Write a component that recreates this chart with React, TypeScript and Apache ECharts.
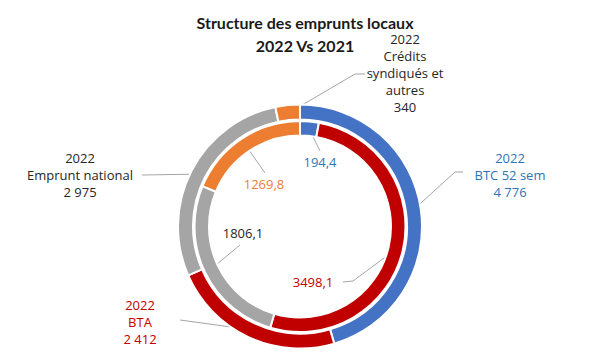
import React, { useEffect, useRef } from "react";
import * as echarts from "echarts";

const categories = ["BTC 52 sem", "BTA", "Emprunt national", "Crédits syndiqués et autres"];
const labelNames2022 = ["BTC 52 sem", "BTA", "Emprunt national", "Crédits\nsyndiqués et\nautres"];
const values2022 = [4776, 2412, 2975, 340];
const values2021 = [194.4, 3498.1, 1806.1, 1269.8];
const sliceColors = ["#4472C4", "#C00000", "#A5A5A5", "#ED7D31"];
const labelColors2022 = ["#2E75B6", "#C00000", "#262626", "#262626"];
const labelColors2021 = ["#2E75B6", "#C00000", "#262626", "#ED7D31"];

const CENTER: [number, number] = [300, 226.5];
const FONT = "'Open Sans', 'DejaVu Sans', sans-serif";

// label layout: text block centres, and guide-line points running from the label toward its slice
const outerLayout = [
  { x: 510, y: 175, elbow: [[463, 172], [455, 172]] },
  { x: 140, y: 322, elbow: [[180, 320]] },
  { x: 80, y: 175, elbow: [[142, 175]] },
  { x: 405, y: 73, elbow: [[365, 74], [355, 74]] },
];
const innerLayout = [
  { x: 320, y: 162, elbow: [[320, 151]] },
  { x: 313, y: 282, elbow: [[343, 282], [353, 281]] },
  { x: 243, y: 233, elbow: [[240, 245]] },
  { x: 264, y: 184, elbow: [[265, 173]] },
];

const fmt2022 = (v: number) => String(v).replace(/\B(?=(\d{3})+(?!\d))/g, " ");
const fmt2021 = (v: number) => v.toFixed(1).replace(".", ",");

function pullIn(p: number[], d: number) {
  const dx = p[0] - CENTER[0];
  const dy = p[1] - CENTER[1];
  const r = Math.sqrt(dx * dx + dy * dy);
  const k = (r - d) / r;
  return [CENTER[0] + dx * k, CENTER[1] + dy * k];
}

export default function App() {
  const ref = useRef<HTMLDivElement>(null);
  useEffect(() => {
    document.body.style.margin = "0";
    const chart = echarts.init(ref.current!, null, { renderer: "svg" });
    const makeLayout = (layout: any[], inset: number) => (params: any) => {
      const L = layout[params.dataIndex];
      const start = params.labelLinePoints ? pullIn(params.labelLinePoints[0], inset) : null;
      return {
        x: L.x,
        y: L.y,
        align: "center",
        verticalAlign: "middle",
        labelLinePoints: start ? [...L.elbow, start] : undefined,
      };
    };
    chart.setOption({
      animation: false,
      backgroundColor: "#ffffff",
      title: {
        text: "Structure des emprunts locaux\n2022 Vs 2021",
        left: 300,
        top: 6,
        textAlign: "center",
        textStyle: {
          fontFamily: "Lato, 'Open Sans', sans-serif",
          fontWeight: "bold",
          fontSize: 16,
          lineHeight: 23,
          color: "#1a1a1a",
          align: "center",
        },
      },
      series: [
        {
          type: "pie",
          name: "2022",
          center: CENTER,
          radius: [107, 122],
          startAngle: 90,
          clockwise: true,
          avoidLabelOverlap: false,
          itemStyle: { borderColor: "#ffffff", borderWidth: 2 },
          label: {
            show: true,
            position: "outside",
            fontFamily: FONT,
            fontSize: 13,
            lineHeight: 17,
            align: "center",
            formatter: (p: any) => `2022\n${labelNames2022[p.dataIndex]}\n${fmt2022(p.value)}`,
          },
          labelLine: { show: true, lineStyle: { color: "#A5A5A5", width: 1 } },
          labelLayout: makeLayout(outerLayout, 8),
          emphasis: { disabled: true },
          data: categories.map((c, i) => ({
            name: c,
            value: values2022[i],
            itemStyle: { color: sliceColors[i] },
            label: { color: labelColors2022[i] },
          })),
        },
        {
          type: "pie",
          name: "2021",
          center: CENTER,
          radius: [91, 105.5],
          startAngle: 90,
          clockwise: true,
          avoidLabelOverlap: false,
          itemStyle: { borderColor: "#ffffff", borderWidth: 2 },
          label: {
            show: true,
            position: "outside",
            fontFamily: FONT,
            fontSize: 13,
            lineHeight: 17,
            formatter: (p: any) => fmt2021(p.value),
          },
          labelLine: { show: true, lineStyle: { color: "#A5A5A5", width: 1 } },
          labelLayout: makeLayout(innerLayout, 7),
          emphasis: { disabled: true },
          data: categories.map((c, i) => ({
            name: c,
            value: values2021[i],
            itemStyle: { color: sliceColors[i] },
            label: { color: labelColors2021[i] },
          })),
        },
      ],
    });
    return () => chart.dispose();
  }, []);
  return <div ref={ref} style={{ width: 600, height: 359 }} />;
}
